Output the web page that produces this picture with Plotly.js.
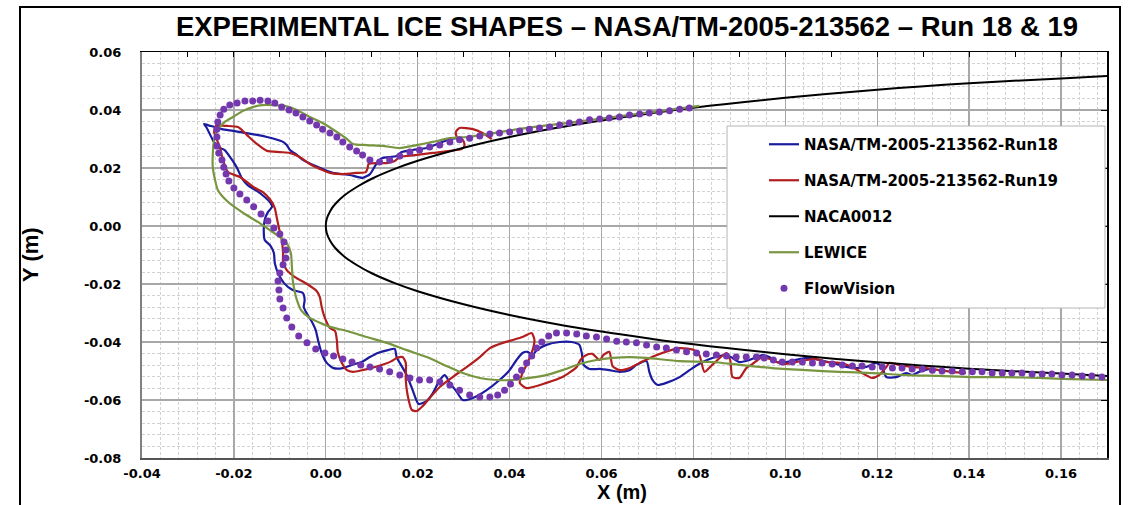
<!DOCTYPE html>
<html>
<head>
<meta charset="utf-8">
<script src="https://cdn.plot.ly/plotly-3.0.1.min.js"></script>
<style>
  html, body { margin: 0; padding: 0; background: #ffffff; }
  #chart { width: 1130px; height: 505px; }
</style>
</head>
<body>
<div id="chart"></div>
<script>
// ---------------- data ----------------
const chartTitle = 'EXPERIMENTAL ICE SHAPES \u2013 NASA/TM-2005-213562 \u2013 Run 18 & 19';
const seriesNames = ['NASA/TM-2005-213562-Run18', 'NASA/TM-2005-213562-Run19', 'NACA0012', 'LEWICE', 'FlowVision'];

const xTickVals = [-0.04, -0.02, 0.00, 0.02, 0.04, 0.06, 0.08, 0.10, 0.12, 0.14, 0.16];
const xTickText = ['-0.04', '-0.02', '0.00', '0.02', '0.04', '0.06', '0.08', '0.10', '0.12', '0.14', '0.16'];
const yTickVals = [-0.08, -0.06, -0.04, -0.02, 0.00, 0.02, 0.04, 0.06];
const yTickText = ['-0.08', '-0.06', '-0.04', '-0.02', '0.00', '0.02', '0.04', '0.06'];

const run18X = [0.0285,0.0270,0.0248,0.0220,0.0189,0.0165,0.0154,0.0122,0.0111,0.0096,
  0.0080,0.0052,0.0015,-0.0017,-0.0050,-0.0063,-0.0078,-0.0085,-0.0093,-0.0111,
  -0.0128,-0.0150,-0.0176,-0.0202,-0.0226,-0.0241,-0.0257,-0.0265,-0.0259,-0.0246,
  -0.0235,-0.0220,-0.0204,-0.0193,-0.0183,-0.0170,-0.0150,-0.0133,-0.0120,-0.0117,
  -0.0126,-0.0133,-0.0135,-0.0133,-0.0120,-0.0113,-0.0111,-0.0104,-0.0091,-0.0072,
  -0.0050,-0.0046,-0.0048,-0.0041,-0.0030,-0.0022,-0.0017,-0.0009,0.0002,0.0017,
  0.0037,0.0057,0.0078,0.0096,0.0113,0.0135,0.0150,0.0154,0.0161,0.0176,
  0.0189,0.0202,0.0220,0.0233,0.0248,0.0259,0.0270,0.0285,0.0298,0.0320,
  0.0350,0.0378,0.0400,0.0415,0.0428,0.0439,0.0450,0.0459,0.0480,0.0509,
  0.0535,0.0552,0.0557,0.0561,0.0574,0.0596,0.0617,0.0639,0.0661,0.0676,
  0.0698,0.0704,0.0711,0.0722,0.0741,0.0770,0.0798,0.0820,0.0841,0.0872,
  0.0885,0.0900,0.0922,0.0950,0.0965,0.0980,0.1002,0.1030,0.1052,0.1074,
  0.1102,0.1133,0.1154,0.1176,0.1198,0.1211,0.1220,0.1241,0.1263,0.1276,
  0.1291,0.1313];
const run18Y = [0.0303,0.0300,0.0286,0.0269,0.0262,0.0255,0.0241,0.0234,0.0217,0.0179,
  0.0166,0.0176,0.0183,0.0203,0.0228,0.0245,0.0262,0.0279,0.0290,0.0300,
  0.0307,0.0314,0.0321,0.0328,0.0334,0.0341,0.0348,0.0352,0.0338,0.0297,
  0.0272,0.0262,0.0228,0.0200,0.0166,0.0141,0.0121,0.0100,0.0079,0.0066,
  0.0048,0.0021,-0.0021,-0.0048,-0.0069,-0.0093,-0.0128,-0.0162,-0.0197,-0.0221,
  -0.0231,-0.0255,-0.0279,-0.0303,-0.0331,-0.0359,-0.0393,-0.0438,-0.0472,-0.0490,
  -0.0490,-0.0479,-0.0469,-0.0452,-0.0438,-0.0428,-0.0424,-0.0452,-0.0472,-0.0514,
  -0.0566,-0.0614,-0.0603,-0.0576,-0.0531,-0.0514,-0.0541,-0.0572,-0.0600,-0.0593,
  -0.0566,-0.0531,-0.0497,-0.0462,-0.0438,-0.0434,-0.0445,-0.0428,-0.0410,-0.0400,
  -0.0400,-0.0410,-0.0438,-0.0479,-0.0493,-0.0493,-0.0497,-0.0503,-0.0497,-0.0479,
  -0.0466,-0.0503,-0.0531,-0.0548,-0.0541,-0.0521,-0.0490,-0.0469,-0.0455,-0.0445,
  -0.0455,-0.0469,-0.0462,-0.0445,-0.0452,-0.0469,-0.0469,-0.0459,-0.0455,-0.0462,
  -0.0472,-0.0486,-0.0490,-0.0486,-0.0472,-0.0490,-0.0521,-0.0521,-0.0507,-0.0514,
  -0.0503,-0.0493];

const run19X = [0.0361,0.0341,0.0320,0.0291,0.0283,0.0285,0.0298,0.0302,0.0296,0.0270,
  0.0233,0.0198,0.0161,0.0150,0.0133,0.0111,0.0093,0.0091,0.0087,0.0067,
  0.0037,0.0009,-0.0013,-0.0035,-0.0057,-0.0078,-0.0100,-0.0128,-0.0150,-0.0172,
  -0.0191,-0.0215,-0.0239,-0.0243,-0.0237,-0.0230,-0.0224,-0.0213,-0.0187,-0.0172,
  -0.0154,-0.0137,-0.0122,-0.0111,-0.0107,-0.0102,-0.0096,-0.0093,-0.0093,-0.0085,
  -0.0067,-0.0041,-0.0020,-0.0013,-0.0009,-0.0002,0.0009,0.0020,0.0024,0.0026,
  0.0033,0.0046,0.0059,0.0080,0.0107,0.0128,0.0143,0.0154,0.0167,0.0174,
  0.0174,0.0178,0.0187,0.0198,0.0211,0.0226,0.0248,0.0276,0.0307,0.0335,
  0.0357,0.0385,0.0407,0.0428,0.0448,0.0454,0.0450,0.0439,0.0428,0.0422,
  0.0437,0.0480,0.0515,0.0546,0.0554,0.0567,0.0580,0.0596,0.0604,0.0617,
  0.0624,0.0639,0.0661,0.0683,0.0715,0.0770,0.0802,0.0813,0.0824,0.0841,
  0.0872,0.0880,0.0885,0.0900,0.0915,0.0928,0.0950,0.0972,0.0993,0.1015,
  0.1046,0.1067,0.1089,0.1117,0.1146,0.1167,0.1189,0.1204,0.1220,0.1226,
  0.1248,0.1276,0.1307,0.1335,0.1363,0.1393];
const run19Y = [0.0300,0.0321,0.0334,0.0338,0.0324,0.0307,0.0297,0.0279,0.0266,0.0259,
  0.0252,0.0245,0.0238,0.0224,0.0217,0.0217,0.0214,0.0200,0.0186,0.0183,
  0.0179,0.0183,0.0197,0.0214,0.0238,0.0252,0.0255,0.0259,0.0283,0.0314,
  0.0341,0.0345,0.0345,0.0324,0.0297,0.0269,0.0228,0.0186,0.0169,0.0152,
  0.0131,0.0117,0.0093,0.0062,0.0031,-0.0007,-0.0048,-0.0093,-0.0124,-0.0152,
  -0.0176,-0.0200,-0.0224,-0.0245,-0.0279,-0.0317,-0.0352,-0.0362,-0.0393,-0.0434,
  -0.0466,-0.0497,-0.0503,-0.0497,-0.0486,-0.0476,-0.0466,-0.0455,-0.0452,-0.0472,
  -0.0531,-0.0583,-0.0634,-0.0638,-0.0621,-0.0593,-0.0555,-0.0521,-0.0486,-0.0452,
  -0.0421,-0.0403,-0.0393,-0.0383,-0.0369,-0.0393,-0.0428,-0.0472,-0.0507,-0.0541,
  -0.0559,-0.0541,-0.0521,-0.0486,-0.0462,-0.0445,-0.0441,-0.0462,-0.0445,-0.0434,
  -0.0483,-0.0497,-0.0490,-0.0472,-0.0448,-0.0421,-0.0428,-0.0445,-0.0503,-0.0479,
  -0.0438,-0.0462,-0.0521,-0.0524,-0.0490,-0.0476,-0.0452,-0.0462,-0.0476,-0.0472,
  -0.0462,-0.0459,-0.0469,-0.0472,-0.0486,-0.0507,-0.0524,-0.0514,-0.0486,-0.0472,
  -0.0479,-0.0486,-0.0490,-0.0497,-0.0503,-0.0507];

const nacaX = [0.17,0.16,0.14,0.12,0.10,0.08,0.07,0.06,0.05,0.04,0.03,0.02,0.015,0.01,0.007,0.004,0.002,0.001,0.0002,0,
  0.0002,0.001,0.002,0.004,0.007,0.01,0.015,0.02,0.03,0.04,0.05,0.06,0.07,0.08,0.10,0.12,0.14,0.16,0.17];
const nacaY = [0.0517,0.0509,0.0492,0.0470,0.0442,0.0408,0.0387,0.0364,0.0338,0.0307,0.0270,0.0225,0.0197,0.0163,0.0137,0.0105,0.0075,0.0053,0.0024,0,
  -0.0024,-0.0053,-0.0075,-0.0105,-0.0137,-0.0163,-0.0197,-0.0225,-0.0270,-0.0307,-0.0338,-0.0364,-0.0387,-0.0408,-0.0442,-0.0470,-0.0492,-0.0509,-0.0517];

const lewiceX = [0.0813,0.0524,0.0450,0.0378,0.0341,0.0307,0.0270,0.0233,0.0198,0.0161,
  0.0124,0.0089,0.0059,0.0046,0.0024,-0.0007,-0.0035,-0.0063,-0.0089,-0.0115,
  -0.0139,-0.0159,-0.0180,-0.0202,-0.0220,-0.0235,-0.0243,-0.0246,-0.0246,-0.0241,
  -0.0235,-0.0215,-0.0180,-0.0148,-0.0122,-0.0100,-0.0085,-0.0076,-0.0074,-0.0072,
  -0.0067,-0.0063,-0.0054,-0.0035,-0.0013,0.0009,0.0046,0.0089,0.0133,0.0176,
  0.0220,0.0263,0.0298,0.0335,0.0372,0.0407,0.0443,0.0480,0.0515,0.0552,
  0.0589,0.0624,0.0661,0.0698,0.0770,0.0841,0.0900,0.0972,0.1046,0.1117,
  0.1189,0.1263,0.1335,0.1407,0.1480,0.1552,0.1624,0.1700];
const lewiceY = [0.0414,0.0355,0.0341,0.0324,0.0314,0.0307,0.0303,0.0290,0.0279,0.0269,
  0.0276,0.0279,0.0283,0.0300,0.0324,0.0355,0.0376,0.0400,0.0414,0.0417,
  0.0417,0.0410,0.0397,0.0376,0.0359,0.0331,0.0297,0.0245,0.0203,0.0159,
  0.0124,0.0086,0.0045,0.0014,-0.0014,-0.0038,-0.0059,-0.0093,-0.0134,-0.0186,
  -0.0231,-0.0255,-0.0290,-0.0317,-0.0334,-0.0348,-0.0362,-0.0383,-0.0403,-0.0428,
  -0.0452,-0.0483,-0.0507,-0.0524,-0.0531,-0.0531,-0.0524,-0.0514,-0.0497,-0.0476,
  -0.0462,-0.0455,-0.0452,-0.0455,-0.0466,-0.0469,-0.0479,-0.0490,-0.0497,-0.0503,
  -0.0507,-0.0514,-0.0517,-0.0521,-0.0521,-0.0524,-0.0528,-0.0531];

const flowVisionX = [0.0791,0.0770,0.0748,0.0726,0.0704,0.0683,0.0661,0.0639,0.0617,0.0596,
  0.0574,0.0552,0.0530,0.0509,0.0487,0.0465,0.0443,0.0422,0.0400,0.0378,
  0.0357,0.0335,0.0313,0.0291,0.0270,0.0248,0.0226,0.0204,0.0183,0.0161,
  0.0139,0.0117,0.0096,0.0080,0.0067,0.0052,0.0037,0.0024,0.0009,-0.0007,
  -0.0020,-0.0035,-0.0050,-0.0065,-0.0080,-0.0096,-0.0111,-0.0126,-0.0143,-0.0159,
  -0.0176,-0.0193,-0.0209,-0.0222,-0.0230,-0.0235,-0.0237,-0.0237,-0.0237,-0.0233,
  -0.0226,-0.0222,-0.0217,-0.0211,-0.0200,-0.0187,-0.0172,-0.0157,-0.0141,-0.0126,
  -0.0113,-0.0100,-0.0091,-0.0087,-0.0087,-0.0093,-0.0100,-0.0104,-0.0102,-0.0100,
  -0.0093,-0.0085,-0.0074,-0.0059,-0.0041,-0.0022,-0.0002,0.0017,0.0037,0.0057,
  0.0076,0.0096,0.0117,0.0139,0.0161,0.0183,0.0204,0.0226,0.0248,0.0270,
  0.0291,0.0313,0.0335,0.0357,0.0374,0.0389,0.0402,0.0415,0.0426,0.0437,
  0.0448,0.0459,0.0470,0.0485,0.0502,0.0524,0.0546,0.0567,0.0589,0.0611,
  0.0633,0.0654,0.0676,0.0698,0.0720,0.0741,0.0763,0.0785,0.0807,0.0828,
  0.0850,0.0872,0.0893,0.0915,0.0937,0.0954,0.0974,0.0993,0.1015,0.1037,
  0.1059,0.1080,0.1102,0.1124,0.1146,0.1167,0.1189,0.1211,0.1233,0.1254,
  0.1276,0.1298,0.1320,0.1341,0.1363,0.1385,0.1407,0.1428,0.1450,0.1472,
  0.1493,0.1515,0.1537,0.1559,0.1580,0.1602,0.1624,0.1646,0.1667,0.1689];
const flowVisionY = [0.0407,0.0403,0.0397,0.0393,0.0390,0.0386,0.0383,0.0376,0.0372,0.0369,
  0.0366,0.0359,0.0355,0.0348,0.0341,0.0338,0.0334,0.0328,0.0324,0.0321,
  0.0317,0.0310,0.0303,0.0297,0.0290,0.0279,0.0272,0.0262,0.0255,0.0241,
  0.0228,0.0221,0.0228,0.0245,0.0259,0.0272,0.0290,0.0307,0.0321,0.0334,
  0.0348,0.0362,0.0376,0.0390,0.0400,0.0410,0.0424,0.0431,0.0434,0.0431,
  0.0431,0.0424,0.0417,0.0403,0.0383,0.0359,0.0334,0.0307,0.0276,0.0252,
  0.0228,0.0203,0.0179,0.0155,0.0131,0.0110,0.0090,0.0066,0.0041,0.0017,
  -0.0007,-0.0028,-0.0055,-0.0083,-0.0110,-0.0134,-0.0162,-0.0190,-0.0221,-0.0252,
  -0.0283,-0.0317,-0.0348,-0.0379,-0.0403,-0.0424,-0.0438,-0.0448,-0.0459,-0.0469,
  -0.0479,-0.0486,-0.0493,-0.0503,-0.0514,-0.0524,-0.0531,-0.0531,-0.0538,-0.0548,
  -0.0566,-0.0583,-0.0590,-0.0590,-0.0583,-0.0566,-0.0545,-0.0521,-0.0497,-0.0472,
  -0.0448,-0.0421,-0.0400,-0.0379,-0.0369,-0.0369,-0.0372,-0.0379,-0.0383,-0.0390,
  -0.0397,-0.0400,-0.0403,-0.0410,-0.0417,-0.0421,-0.0428,-0.0434,-0.0438,-0.0441,
  -0.0445,-0.0448,-0.0452,-0.0452,-0.0452,-0.0455,-0.0462,-0.0469,-0.0469,-0.0469,
  -0.0472,-0.0472,-0.0476,-0.0479,-0.0483,-0.0483,-0.0486,-0.0486,-0.0490,-0.0490,
  -0.0493,-0.0493,-0.0497,-0.0500,-0.0500,-0.0503,-0.0503,-0.0503,-0.0507,-0.0507,
  -0.0507,-0.0507,-0.0510,-0.0510,-0.0510,-0.0514,-0.0514,-0.0517,-0.0517,-0.0521];

// ---------------- styles ----------------
const W = 1130, H = 505;
const M = { l: 142, r: 23, t: 52, b: 47 };
const PW = W - M.l - M.r, PH = H - M.t - M.b;
const px2paperX = p => (p - M.l) / PW;
const px2paperY = p => (H - M.b - p) / PH;

const tickFont = { family: 'DejaVu Sans, Verdana, sans-serif', size: 13, color: '#000000', weight: 'bold' };
const titleFont = { family: 'Liberation Sans, Arial, sans-serif', size: 27.5, color: '#000000', weight: 'bold' };
const axisTitleFont = { family: 'Liberation Sans, Arial, sans-serif', size: 22, color: '#000000', weight: 'bold' };

function lineTrace(x, y, name, color, width, group) {
  return { type: 'scatter', mode: 'lines', x: x, y: y, name: name, legendgroup: group,
    line: { color: color, width: width, shape: 'spline', smoothing: 0.6 }, hoverinfo: 'skip' };
}

const traces = [
  lineTrace(run18X, run18Y, seriesNames[0], '#1B1BA0', 2.2, 'g1'),
  lineTrace(run19X, run19Y, seriesNames[1], '#B21E1E', 2.2, 'g2'),
  Object.assign(lineTrace(nacaX, nacaY, seriesNames[2], '#000000', 2, 'g3'), { line: { color: '#000000', width: 2, shape: 'spline', smoothing: 1 } }),
  lineTrace(lewiceX, lewiceY, seriesNames[3], '#78963F', 2.2, 'g4'),
  { type: 'scatter', mode: 'markers', x: flowVisionX, y: flowVisionY, name: seriesNames[4], legendgroup: 'g5',
    marker: { color: '#7438AE', size: 7, line: { width: 0 } }, hoverinfo: 'skip' },
  // carriers for the top / right frame axes (no points)
  { type: 'scatter', x: [], y: [], xaxis: 'x2', yaxis: 'y2', showlegend: false, hoverinfo: 'skip' }
];

const layout = {
  width: W, height: H,
  margin: M,
  paper_bgcolor: '#ffffff', plot_bgcolor: '#ffffff',
  showlegend: true,
  title: { text: chartTitle, font: titleFont, x: 627 / W, xanchor: 'center', xref: 'container',
           y: 1 - 26 / H, yanchor: 'middle', yref: 'container' },
  xaxis: {
    range: [-0.04, 0.17], tickmode: 'array', tickvals: xTickVals, ticktext: xTickText,
    tickfont: tickFont, ticks: '', ticklabelstandoff: 3,
    showgrid: true, gridcolor: '#a8a8a8', gridwidth: 1.3,
    minor: { tickmode: 'linear', tick0: 0, dtick: 0.004, showgrid: true, gridcolor: '#d2d2d2', griddash: '3px,2px', gridwidth: 1 },
    zeroline: false, showline: true, linecolor: '#555555', linewidth: 1.5,
    fixedrange: true
  },
  yaxis: {
    range: [-0.08, 0.06], tickmode: 'array', tickvals: yTickVals, ticktext: yTickText,
    tickfont: tickFont, ticks: '', ticklabelstandoff: 16,
    showgrid: true, gridcolor: '#a8a8a8', gridwidth: 1.3,
    minor: { tickmode: 'linear', tick0: 0, dtick: 0.004, showgrid: true, gridcolor: '#d2d2d2', griddash: '3px,2px', gridwidth: 1 },
    zeroline: false, showline: true, linecolor: '#808080', linewidth: 2,
    fixedrange: true
  },
  xaxis2: {
    overlaying: 'x', side: 'top', anchor: 'y2', range: [-0.04, 0.17],
    tickmode: 'linear', tick0: -0.04, dtick: 0.01, ticks: 'inside', ticklen: 5, tickcolor: '#000000', tickwidth: 1,
    showticklabels: false, showgrid: false, zeroline: false,
    showline: true, linecolor: '#000000', linewidth: 1.5, fixedrange: true
  },
  yaxis2: {
    overlaying: 'y', side: 'right', anchor: 'x2', range: [-0.08, 0.06],
    tickmode: 'linear', tick0: -0.08, dtick: 0.02, ticks: 'inside', ticklen: 6, tickcolor: '#000000', tickwidth: 1,
    showticklabels: false, showgrid: false, zeroline: false,
    showline: true, linecolor: '#000000', linewidth: 2, fixedrange: true
  },
  legend: {
    x: px2paperX(764), y: px2paperY(128), xanchor: 'left', yanchor: 'top',
    bgcolor: 'rgba(0,0,0,0)', borderwidth: 0,
    font: { family: 'DejaVu Sans, Verdana, sans-serif', size: 15, color: '#000000', weight: 'bold' },
    traceorder: 'grouped', tracegroupgap: 13.5
  },
  shapes: [
    // outer chart frame
    { type: 'rect', xref: 'paper', yref: 'paper',
      x0: px2paperX(20), x1: px2paperX(1120), y0: px2paperY(540), y1: px2paperY(7),
      line: { color: '#000000', width: 2 }, fillcolor: 'rgba(0,0,0,0)', layer: 'below' },
    // legend box
    { type: 'rect', xref: 'paper', yref: 'paper',
      x0: px2paperX(727), x1: px2paperX(1105), y0: px2paperY(308), y1: px2paperY(126),
      line: { color: '#b4b4b4', width: 1 }, fillcolor: '#ffffff', layer: 'above' }
  ],
  annotations: [
    { text: 'Y (m)', xref: 'paper', yref: 'paper', x: px2paperX(30), y: px2paperY(255),
      xanchor: 'center', yanchor: 'middle', textangle: -90, showarrow: false, font: axisTitleFont },
    { text: 'X (m)', xref: 'paper', yref: 'paper', x: px2paperX(622), y: px2paperY(492),
      xanchor: 'center', yanchor: 'middle', showarrow: false, font: { family: axisTitleFont.family, size: 20, color: '#000000', weight: 'bold' } }
  ]
};

Plotly.newPlot('chart', traces, layout, { staticPlot: true, displayModeBar: false });
</script>
</body>
</html>
